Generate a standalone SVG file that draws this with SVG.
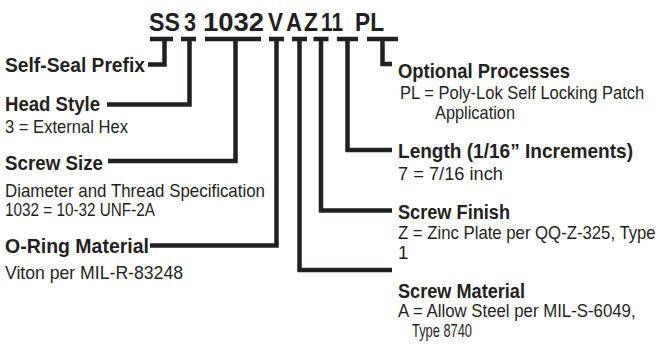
<svg xmlns="http://www.w3.org/2000/svg" width="661" height="358" viewBox="0 0 661 358">
<style>
text{font-family:"Liberation Sans",Arial,sans-serif;fill:#231f20}
.code{font-size:26px;font-weight:bold}
.h{font-size:21px;font-weight:bold}
.d{font-size:18.5px}
.ln{fill:none;stroke:#231f20;stroke-width:4.5;stroke-linejoin:miter;stroke-linecap:butt}
</style>
<rect width="661" height="358" fill="#fff"/>
<g id="code">
<text class="code" x="149" y="31" textLength="31" lengthAdjust="spacingAndGlyphs">SS</text>
<text class="code" x="184" y="31" textLength="12" lengthAdjust="spacingAndGlyphs">3</text>
<text class="code" x="203" y="31" textLength="61" lengthAdjust="spacingAndGlyphs">1032</text>
<text class="code" x="268" y="31" textLength="15" lengthAdjust="spacingAndGlyphs">V</text>
<text class="code" x="286" y="31" textLength="16" lengthAdjust="spacingAndGlyphs">A</text>
<text class="code" x="304" y="31" textLength="14" lengthAdjust="spacingAndGlyphs">Z</text>
<text class="code" x="321" y="31" textLength="22" lengthAdjust="spacingAndGlyphs">11</text>
<text class="code" x="355" y="31" textLength="29" lengthAdjust="spacingAndGlyphs">PL</text>
</g>
<g id="connectors">
<path class="ln" d="M150,39H173M164.5,39V64.5H148"/>
<path class="ln" d="M181,39H196M189.5,39V104.5H107"/>
<path class="ln" d="M205,39H261M235.5,39V161H108"/>
<path class="ln" d="M269,39H284M276.5,39V245.5H150"/>
<path class="ln" d="M292,39H307M299.5,39V270H392"/>
<path class="ln" d="M313.5,39H328.5M321,39V210.5H392"/>
<path class="ln" d="M337,39H358M347.5,39V150H392"/>
<path class="ln" d="M367,39H398M382.5,39V64H392"/>
</g>
<g id="self-seal-prefix">
<text class="h" x="5" y="72" textLength="140" lengthAdjust="spacingAndGlyphs">Self-Seal Prefix</text>
</g>
<g id="head-style">
<text class="h" x="5" y="111" textLength="95" lengthAdjust="spacingAndGlyphs">Head Style</text>
<text class="d" x="5" y="133" textLength="123" lengthAdjust="spacingAndGlyphs">3 = External Hex</text>
</g>
<g id="screw-size">
<text class="h" x="5" y="170" textLength="98" lengthAdjust="spacingAndGlyphs">Screw Size</text>
<text class="d" x="5" y="197" textLength="260" lengthAdjust="spacingAndGlyphs">Diameter and Thread Specification</text>
<text class="d" x="5" y="216" textLength="150" lengthAdjust="spacingAndGlyphs">1032 = 10-32 UNF-2A</text>
</g>
<g id="o-ring-material">
<text class="h" x="5" y="253" textLength="144" lengthAdjust="spacingAndGlyphs">O-Ring Material</text>
<text class="d" x="5" y="279" textLength="178" lengthAdjust="spacingAndGlyphs">Viton per MIL-R-83248</text>
</g>
<g id="optional-processes">
<text class="h" x="398" y="78" textLength="172" lengthAdjust="spacingAndGlyphs">Optional Processes</text>
<text class="d" transform="translate(400,99) scale(0.894,1)">PL = Poly-Lok Self Locking Patch</text>
<text class="d" x="435" y="119" textLength="80" lengthAdjust="spacingAndGlyphs">Application</text>
</g>
<g id="length">
<text class="h" x="398" y="158" textLength="235" lengthAdjust="spacingAndGlyphs">Length (1/16” Increments)</text>
<text class="d" x="398" y="180" textLength="105" lengthAdjust="spacingAndGlyphs">7 = 7/16 inch</text>
</g>
<g id="screw-finish">
<text class="h" x="398" y="219" textLength="112" lengthAdjust="spacingAndGlyphs">Screw Finish</text>
<text class="d" transform="translate(398,239) scale(0.905,1)">Z = Zinc Plate per QQ-Z-325, Type</text>
<text class="d" x="398" y="259">1</text>
</g>
<g id="screw-material">
<text class="h" x="398" y="298" textLength="127" lengthAdjust="spacingAndGlyphs">Screw Material</text>
<text class="d" transform="translate(398,317) scale(0.909,1)">A = Allow Steel per MIL-S-6049,</text>
<text class="d" x="412" y="337" textLength="60" lengthAdjust="spacingAndGlyphs">Type 8740</text>
</g>
</svg>
